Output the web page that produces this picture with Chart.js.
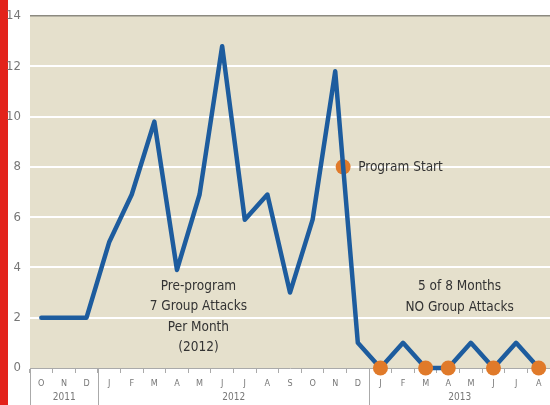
<!DOCTYPE html>
<html>
<head>
<meta charset="utf-8">
<script src="https://cdn.jsdelivr.net/npm/chart.js@4.4.0/dist/chart.umd.min.js"></script>
<style>
  html, body { margin: 0; padding: 0; background: #fff; overflow: hidden; }
  #wrap { position: relative; width: 550px; height: 405px; }
</style>
</head>
<body>
<div id="wrap"><canvas id="chart"></canvas></div>
<script>
// monthly group attacks, Oct 2011 - Aug 2013
const months = ['O','N','D','J','F','M','A','M','J','J','A','S','O','N','D','J','F','M','A','M','J','J','A'];
const attacks = [2, 2, 2, 5, 6.9, 9.8, 3.9, 6.9, 12.8, 5.9, 6.9, 3, 5.9, 11.8, 1, 0, 1, 0, 0, 1, 0, 1, 0];
const zeroMonths = [15, 17, 18, 20, 22];
const years = [
  { label: '2011', from: 0, to: 2 },
  { label: '2012', from: 3, to: 14 },
  { label: '2013', from: 15, to: 22 }
];
const yTicks = [0, 2, 4, 6, 8, 10, 12, 14];
// program start marker sits on the Nov -> Dec 2012 segment
const programStart = [{ x: 13.35, y: 8 }];

const BLUE = '#1d5c9e';
const ORANGE = '#e07a2a';
const BEIGE = '#e5e0cc';
const FONT = '"Liberation Sans Narrow", "DejaVu Sans Condensed", "Open Sans", sans-serif';

const decor = {
  id: 'decor',
  beforeDraw(chart) {
    const { ctx, chartArea: a, width, height } = chart;
    ctx.save();
    ctx.fillStyle = '#fff';
    ctx.fillRect(0, 0, width, height);
    ctx.fillStyle = '#e3231b';
    ctx.fillRect(0, 0, 8, height);
    ctx.fillStyle = BEIGE;
    ctx.fillRect(a.left, a.top, a.right - a.left, a.bottom - a.top);
    ctx.restore();
  },
  afterDraw(chart) {
    const { ctx, chartArea: a, height } = chart;
    const x = chart.scales.x, y = chart.scales.y;
    const half = (x.getPixelForValue(1) - x.getPixelForValue(0)) / 2;
    ctx.save();
    // year separators and labels
    ctx.strokeStyle = '#aaa';
    ctx.lineWidth = 1;
    ctx.fillStyle = '#777';
    ctx.font = '10px ' + FONT;
    ctx.textAlign = 'center';
    ctx.textBaseline = 'middle';
    years.forEach(yr => {
      const left = Math.round(x.getPixelForValue(yr.from) - half) + 0.5;
      const right = x.getPixelForValue(yr.to) + half;
      ctx.beginPath();
      ctx.moveTo(left, a.bottom);
      ctx.lineTo(left, height);
      ctx.stroke();
      ctx.fillText(yr.label, (left + right) / 2, height - 8);
    });
    // annotations
    ctx.fillStyle = '#333';
    ctx.font = '13.5px ' + FONT;
    ctx.textAlign = 'left';
    const px = chart.scales.x2.getPixelForValue(programStart[0].x);
    ctx.fillText('Program Start', px + 15, y.getPixelForValue(programStart[0].y) + 1);
    ctx.textAlign = 'center';
    const preX = x.getPixelForValue(6.95);
    ['Pre-program', '7 Group Attacks', 'Per Month', '(2012)'].forEach((t, i) => {
      ctx.fillText(t, preX, 286 + i * 20.5);
    });
    const postX = (x.getPixelForValue(18) + x.getPixelForValue(19)) / 2;
    ['5 of 8 Months', 'NO Group Attacks'].forEach((t, i) => {
      ctx.fillText(t, postX, 286 + i * 21);
    });
    ctx.restore();
  }
};

new Chart(document.getElementById('chart'), {
  type: 'line',
  data: {
    labels: months,
    datasets: [
      {
        data: attacks,
        borderColor: BLUE,
        borderWidth: 4.5,
        tension: 0,
        fill: false,
        clip: false,
        pointRadius: attacks.map((v, i) => zeroMonths.includes(i) ? 7.5 : 0),
        pointBackgroundColor: ORANGE,
        pointBorderWidth: 0,
        borderJoinStyle: 'round',
        borderCapStyle: 'round'
      },
      {
        data: programStart,
        xAxisID: 'x2',
        showLine: false,
        clip: false,
        pointRadius: 7.5,
        pointBackgroundColor: ORANGE,
        pointBorderWidth: 0
      }
    ]
  },
  options: {
    responsive: true,
    maintainAspectRatio: false,
    animation: false,
    layout: { autoPadding: false, padding: { top: 16, right: 0, left: 0, bottom: 0 } },
    plugins: { legend: { display: false }, tooltip: { enabled: false } },
    scales: {
      x: {
        type: 'category',
        offset: true,
        grid: { offset: true, drawOnChartArea: false, drawTicks: true, tickLength: 5, color: '#aaa' },
        border: { color: '#aaa', width: 1 },
        ticks: { color: '#777', font: { size: 9, family: FONT }, padding: 5, maxRotation: 0, autoSkip: false },
        afterFit(s) { s.height = 37; s.paddingLeft = 0; s.paddingRight = 0; }
      },
      x2: { type: 'linear', min: -0.5, max: 22.5, display: false },
      y: {
        min: 0,
        max: 14,
        afterBuildTicks(s) { s.ticks = yTicks.map(v => ({ value: v })); },
        grid: {
          drawTicks: false,
          color: c => c.tick.value === 14 ? '#8c8a80' : (c.tick.value === 0 ? 'rgba(0,0,0,0)' : '#fff'),
          lineWidth: c => c.tick.value === 14 ? 1.5 : 2
        },
        border: { display: false },
        ticks: { color: '#777', font: { size: 13, family: FONT }, padding: 9 },
        afterFit(s) { s.width = 30; s.paddingTop = 0; s.paddingBottom = 0; }
      }
    }
  },
  plugins: [decor]
});
</script>
</body>
</html>
